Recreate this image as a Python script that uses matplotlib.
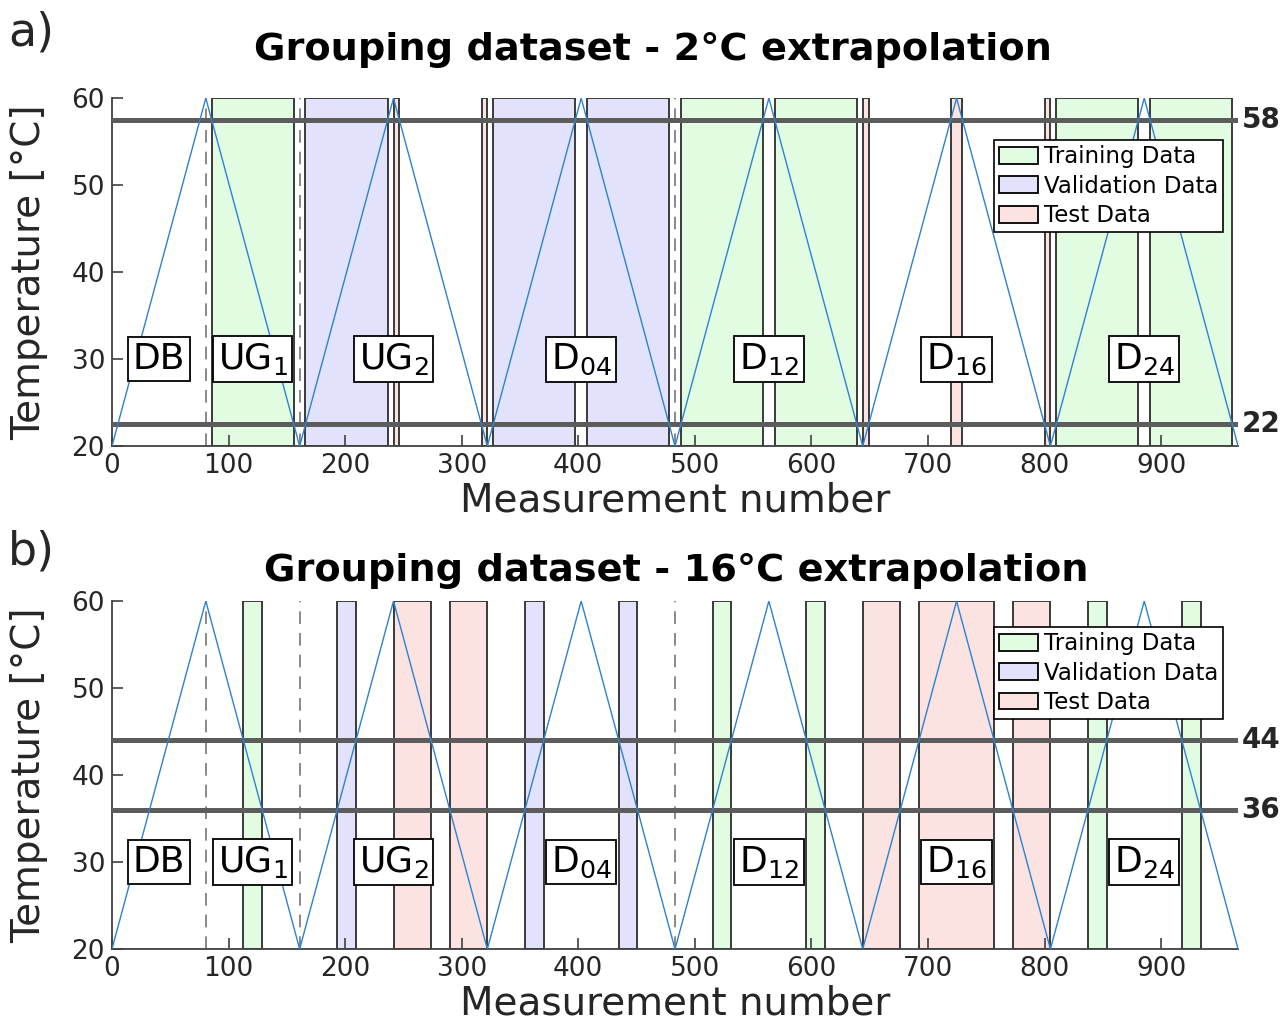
import matplotlib
matplotlib.use("Agg")
import matplotlib.pyplot as plt
from matplotlib.patches import Patch

plt.rcParams['font.family'] = ['DejaVu Sans']

# temperature profile: vertices of the up/down ramps
ramp_x = [0, 80.5, 161, 241.5, 322, 402.5, 483, 563.5, 644, 724.5, 805, 885.5, 966]
ramp_temp = [20, 60, 20, 60, 20, 60, 20, 60, 20, 60, 20, 60, 20]

group_names = ['DB', 'UG$_1$', 'UG$_2$', 'D$_{04}$', 'D$_{12}$', 'D$_{16}$', 'D$_{24}$']
group_x = [40.25, 120.75, 241.5, 402.5, 563.5, 724.5, 885.5]
group_sep = [80.5, 161, 483]

# 2 degC extrapolation split
train_a = [(85.5, 156), (488.5, 558.5), (568.5, 639), (810, 880.5), (890.5, 961)]
valid_a = [(166, 236.5), (327, 397.5), (407.5, 478)]
test_a = [(241.5, 246.5), (317, 322), (644, 649), (719.5, 729.5), (800, 805)]
limits_a = [57.5, 22.5]
limit_labels_a = ['58', '22']

# 16 degC extrapolation split
train_b = [(112.7, 128.8), (515.2, 531.3), (595.7, 611.8), (837.2, 853.3), (917.7, 933.8)]
valid_b = [(193.2, 209.3), (354.2, 370.3), (434.7, 450.8)]
test_b = [(241.5, 273.7), (289.8, 322), (644, 676.2), (692.3, 756.7), (772.8, 805)]
limits_b = [44, 36]
limit_labels_b = ['44', '36']

c_train = '#e2fce2'
c_valid = '#e2e2fc'
c_test = '#fde2e2'
edge = '#3a3a3a'
axcol = '#404040'


def draw_panel(ax, train, valid, test, limits, limit_labels, legend_top):
    for spans, col in [(train, c_train), (valid, c_valid), (test, c_test)]:
        for x0, x1 in spans:
            ax.axvspan(x0, x1, facecolor=col, edgecolor=edge, lw=1.4, zorder=1)
    for xs in group_sep:
        ax.plot([xs, xs], [20, 60], color='#808080', lw=1.3, ls=(0, (7, 5)), zorder=2)
    for lim, lab in zip(limits, limit_labels):
        ax.axhline(lim, color='#5c5c5c', lw=3.6, zorder=3)
        ax.text(969, lim, lab, fontsize=20, fontweight='bold', color='#262626',
                ha='left', va='center', clip_on=False)
    ax.plot(ramp_x, ramp_temp, color='#2b83cf', lw=1.0, zorder=4)
    for name, gx in zip(group_names, group_x):
        ax.text(gx, 30, name, fontsize=26, ha='center', va='center', zorder=6,
                bbox=dict(boxstyle='square,pad=0.13', facecolor='white',
                          edgecolor='black', lw=1.3))

    ax.set_xlim(0, 966)
    ax.set_ylim(20, 60)
    ax.set_xticks(range(0, 901, 100))
    ax.set_yticks(range(20, 61, 10))
    ax.tick_params(direction='in', length=8, width=1.2, colors=axcol,
                   labelsize=19, labelcolor='#262626', pad=5)
    for s in ['top', 'right']:
        ax.spines[s].set_visible(False)
    for s in ['left', 'bottom']:
        ax.spines[s].set_color(axcol)
        ax.spines[s].set_linewidth(1.3)
    ax.set_xlabel('Measurement number', fontsize=28, color='#262626', labelpad=2)
    ax.set_ylabel('Temperature [°C]', fontsize=28, color='#262626', labelpad=17)

    handles = [Patch(facecolor=c_train, edgecolor='black', lw=1.3, label='Training Data'),
               Patch(facecolor=c_valid, edgecolor='black', lw=1.3, label='Validation Data'),
               Patch(facecolor=c_test, edgecolor='black', lw=1.3, label='Test Data')]
    leg = ax.legend(handles=handles, loc='upper right', bbox_to_anchor=(0.987, legend_top),
                    fontsize=16.5, frameon=True, fancybox=False, framealpha=1,
                    handlelength=1.7, handleheight=0.75, handletextpad=0.25,
                    labelspacing=0.28, borderpad=0.22, borderaxespad=0)
    leg.get_frame().set_edgecolor('black')
    leg.get_frame().set_linewidth(1.2)
    leg.set_zorder(10)


fig = plt.figure(figsize=(12.87, 10.28), dpi=100)
ax_a = fig.add_axes([0.087, 0.566, 0.875, 0.3385])
ax_b = fig.add_axes([0.087, 0.0768, 0.875, 0.3385])

draw_panel(ax_a, train_a, valid_a, test_a, limits_a, limit_labels_a, 0.879)
draw_panel(ax_b, train_b, valid_b, test_b, limits_b, limit_labels_b, 0.925)

fig.text(653 / 1287, 1 - 50 / 1028, 'Grouping dataset - 2°C extrapolation',
         fontsize=27.5, fontweight='bold', ha='center', va='center')
fig.text(676 / 1287, 1 - 571 / 1028, 'Grouping dataset - 16°C extrapolation',
         fontsize=27.5, fontweight='bold', ha='center', va='center')
fig.text(8 / 1287, 1 - 33 / 1028, 'a)', fontsize=33, ha='left', va='center', color='#262626')
fig.text(8 / 1287, 1 - 552 / 1028, 'b)', fontsize=33, ha='left', va='center', color='#262626')

fig.savefig('out.png', dpi=100)
